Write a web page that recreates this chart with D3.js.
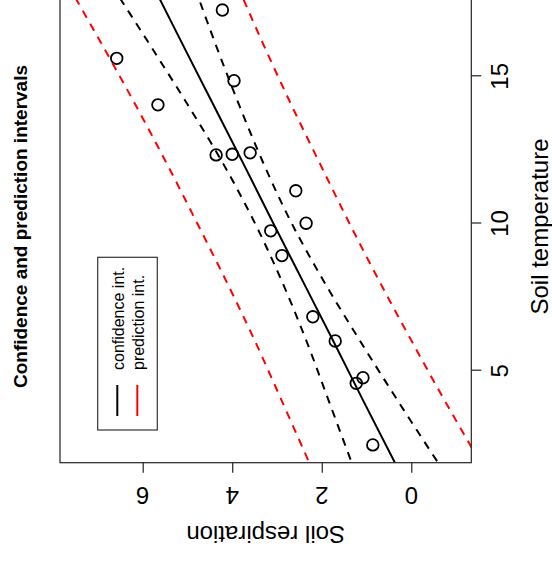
<!DOCTYPE html>
<html>
<head>
<meta charset="utf-8">
<script src="https://cdn.jsdelivr.net/npm/d3@7"></script>
<style>
  html, body { margin: 0; padding: 0; background: #fff; }
  svg { display: block; font-family: "Liberation Sans", Arial, Helvetica, sans-serif; }
</style>
</head>
<body>
<svg id="chart" width="552" height="561"></svg>
<script>
// ---- data ----
const soilTemp = [15.61, 14.03, 17.25, 14.85, 12.33, 12.35, 12.40, 11.11, 10.01, 9.75, 8.91, 6.83, 6.01, 4.57, 4.76, 2.48];
const soilResp = [6.58, 5.66, 4.22, 3.96, 4.36, 4.00, 3.60, 2.58, 2.35, 3.14, 2.89, 2.20, 1.70, 1.23, 1.08, 0.86];

const gridTemp  = [1.5, 4, 6, 8, 10, 12, 14, 16, 18.5];
const fitLine   = [0.24, 1.08, 1.74, 2.41, 3.08, 3.74, 4.41, 5.08, 5.91];
const confLower = [-0.76, 0.31, 1.14, 1.94, 2.67, 3.29, 3.84, 4.35, 4.95];
const confUpper = [1.24, 1.85, 2.34, 2.88, 3.49, 4.19, 4.98, 5.81, 6.87];
const predLower = [-1.69, -0.74, -0.01, 0.70, 1.38, 2.03, 2.67, 3.28, 4.00];
const predUpper = [2.17, 2.90, 3.49, 4.12, 4.78, 5.45, 6.15, 6.88, 7.82];

const tempTicks = [5, 10, 15];
const respTicks = [0, 2, 4, 6];
const legendLabels = ["confidence int.", "prediction int."];
const legendColors = ["black", "red"];

const titleText = "Confidence and prediction intervals";
const xLabelText = "Soil temperature";
const yLabelText = "Soil respiration";

// ---- layout (plot drawn in upright frame, then rotated 90° counter-clockwise) ----
const svg = d3.select("#chart");
const g = svg.append("g").attr("transform", "translate(0,561) rotate(-90)");

const box = { left: 98.3, right: 572, top: 60, bottom: 471.3 };

const x = d3.scaleLinear().domain([5, 15]).range([190.3, 484.7]);
const y = d3.scaleLinear().domain([0, 6]).range([411.3, 142.7]);

g.append("clipPath").attr("id", "clipBox")
  .append("rect")
  .attr("x", box.left).attr("y", box.top)
  .attr("width", box.right - box.left).attr("height", box.bottom - box.top);

const plot = g.append("g").attr("clip-path", "url(#clipBox)");

const lineGen = vals => d3.line()
  .x((d, i) => x(gridTemp[i]))
  .y(d => y(d))
  .curve(d3.curveMonotoneX)(vals);

// points
plot.selectAll("circle.pt").data(soilTemp).enter().append("circle")
  .attr("class", "pt")
  .attr("cx", d => x(d))
  .attr("cy", (d, i) => y(soilResp[i]))
  .attr("r", 5.8)
  .attr("fill", "none")
  .attr("stroke", "black")
  .attr("stroke-width", 1.8);

// fit
plot.append("path").attr("d", lineGen(fitLine))
  .attr("fill", "none").attr("stroke", "black").attr("stroke-width", 2);

// confidence band
[confLower, confUpper].forEach(v => {
  plot.append("path").attr("d", lineGen(v))
    .attr("fill", "none").attr("stroke", "black").attr("stroke-width", 2)
    .attr("stroke-dasharray", "8,7");
});
// prediction band
[predLower, predUpper].forEach(v => {
  plot.append("path").attr("d", lineGen(v))
    .attr("fill", "none").attr("stroke", "red").attr("stroke-width", 2)
    .attr("stroke-dasharray", "8,7");
});

// box
g.append("rect")
  .attr("x", box.left).attr("y", box.top)
  .attr("width", box.right - box.left).attr("height", box.bottom - box.top)
  .attr("fill", "none").attr("stroke", "#222").attr("stroke-width", 1.2);

// x axis (temperature) at bottom of the upright frame
const xAxis = g.append("g").attr("transform", `translate(0,${box.bottom})`)
  .call(d3.axisBottom(x).tickValues(tempTicks).tickSize(10).tickPadding(5).tickFormat(d3.format("d")));
xAxis.select(".domain").remove();
xAxis.selectAll(".tick line").attr("stroke", "#222").attr("stroke-width", 1.2);
xAxis.selectAll(".tick text").remove();
g.selectAll("text.xt").data(tempTicks).enter().append("text")
  .attr("class", "xt")
  .attr("x", d => x(d)).attr("y", 508)
  .attr("text-anchor", "middle")
  .attr("font-size", 24)
  .attr("fill", "black")
  .text(d => d);

// y axis (respiration) at left of the upright frame
const yAxis = g.append("g").attr("transform", `translate(${box.left},0)`)
  .call(d3.axisLeft(y).tickValues(respTicks).tickSize(10).tickFormat(d3.format("d")));
yAxis.select(".domain").remove();
yAxis.selectAll(".tick line").attr("stroke", "#222").attr("stroke-width", 1.2);
yAxis.selectAll(".tick text").remove();
g.selectAll("text.yt").data(respTicks).enter().append("text")
  .attr("class", "yt")
  .attr("transform", d => `translate(74.3,${y(d)}) rotate(-90)`)
  .attr("text-anchor", "middle")
  .attr("font-size", 24)
  .attr("fill", "black")
  .text(d => d);

// axis labels
const boxMidX = (box.left + 572) / 2;
g.append("text")
  .attr("x", 334.5).attr("y", 547.7)
  .attr("text-anchor", "middle").attr("font-size", 24).attr("fill", "black")
  .text(xLabelText);
g.append("text")
  .attr("transform", `translate(35,${(box.top + box.bottom) / 2}) rotate(-90)`)
  .attr("text-anchor", "middle").attr("font-size", 24).attr("fill", "black")
  .text(yLabelText);

// title
g.append("text")
  .attr("x", 334.5).attr("y", 27)
  .attr("text-anchor", "middle").attr("font-size", 19).attr("font-weight", "bold")
  .attr("fill", "black")
  .text(titleText);

// legend
const leg = g.append("g");
leg.append("rect")
  .attr("x", 131).attr("y", 97.7).attr("width", 172.7).attr("height", 59.6)
  .attr("fill", "white").attr("stroke", "#333").attr("stroke-width", 1.2);
legendLabels.forEach((lab, i) => {
  const yy = 117.3 + i * 20;
  leg.append("line")
    .attr("x1", 145).attr("x2", 176).attr("y1", yy).attr("y2", yy)
    .attr("stroke", legendColors[i]).attr("stroke-width", 2);
  leg.append("text")
    .attr("x", 191).attr("y", yy + 6.5)
    .attr("font-size", 16).attr("fill", "black")
    .text(lab);
});
</script>
</body>
</html>
